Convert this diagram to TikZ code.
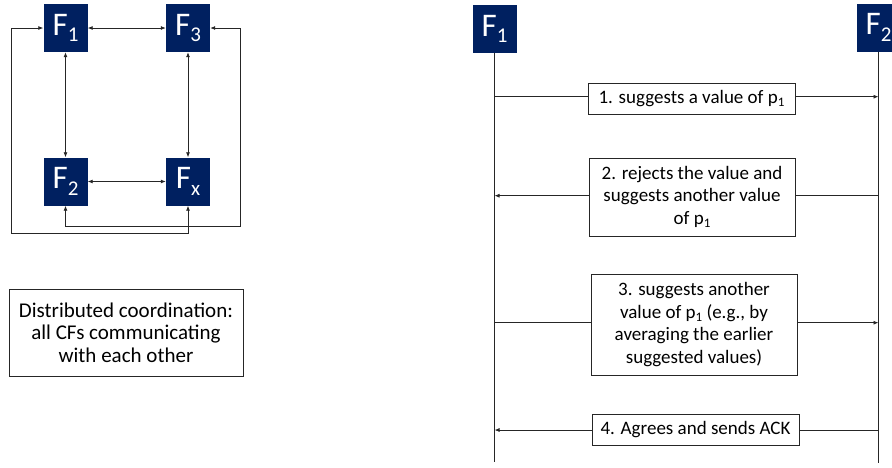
\documentclass[tikz,border=0pt]{standalone}
\usepackage{fontspec}
\setmainfont{Carlito}
\usetikzlibrary{arrows.meta}
\definecolor{navy}{HTML}{002060}
\newcommand{\cfname}[2]{#1\raisebox{-6.5pt}{\fontsize{21}{21}\selectfont #2}}
\newcommand{\psub}{p\raisebox{-3.5pt}{\fontsize{13}{13}\selectfont 1}}
\begin{document}
\begin{tikzpicture}[x=1pt,y=1pt,
  cf/.style={draw=none,fill=navy,text=white,minimum width=44pt,minimum height=48pt,
    inner sep=0pt,font=\fontsize{33}{33}\selectfont},
  wire/.style={draw=black!85,line width=0.8pt},
  tip/.style={-{Latex[length=5pt,width=4pt]}},
  bitip/.style={{Latex[length=5pt,width=4pt]}-{Latex[length=5pt,width=4pt]}},
  msgbox/.style={draw=black!85,line width=0.8pt,fill=white,inner sep=0pt,align=center,
    font=\fontsize{19}{22.5}\selectfont},
  notebox/.style={draw=black!85,line width=0.8pt,fill=white,inner sep=0pt,align=center,
    font=\fontsize{21}{22.5}\selectfont}]
\useasboundingbox (0,0) rectangle (892,-467);

% ---- distributed coordination: four CFs, fully connected ----
\node[cf] (f1) at (65.5,-28) {\cfname{F}{1}};
\node[cf] (f3) at (188,-28) {\cfname{F}{3}};
\node[cf] (f2) at (65.5,-181.5) {\cfname{F}{2}};
\node[cf] (fx) at (188,-181.5) {\cfname{F}{x}};

\draw[wire,bitip] (f1) -- (f3);
\draw[wire,bitip] (f1) -- (f2);
\draw[wire,bitip] (f3) -- (fx);
\draw[wire,bitip] (f2) -- (fx);

\coordinate (lo) at (11.7,-233);
\coordinate (ro) at (240.7,-226);
\draw[wire,bitip] (f1.west) -| (lo) -| (fx.south);
\draw[wire,bitip] (f3.east) -| (ro) -| (f2.south);

\node[notebox,minimum width=234pt,minimum height=87pt] (note) at (126,-332.5)
  {Distributed coordination:\\all CFs communicating\\with each other};

% ---- negotiation sequence between two CFs ----
\node[cf] (s1) at (494.5,-29) {\cfname{F}{1}};
\node[cf] (s2) at (878.5,-27.5) {\cfname{F}{2}\hspace{19pt}};
\coordinate (s1end) at (494.5,-462);
\coordinate (s2end) at (878.5,-463);
\draw[wire] (s1.south) -- (s1end);
\draw[wire] (s2.south) -- (s2end);

\coordinate (a1) at (494.5,-96.7);  \coordinate (b1) at (878.5,-96.7);
\coordinate (a2) at (494.5,-195.7); \coordinate (b2) at (878.5,-195.7);
\coordinate (a3) at (494.5,-322.7); \coordinate (b3) at (878.5,-322.7);
\coordinate (a4) at (494.5,-430);   \coordinate (b4) at (878.5,-430);

\draw[wire,tip] (a1) -- (b1);
\draw[wire,tip] (b2) -- (a2);
\draw[wire,tip] (a3) -- (b3);
\draw[wire,tip] (b4) -- (a4);

\node[msgbox,minimum width=207pt,minimum height=31pt] (m1) at (691.5,-98.5)
  {1. suggests a value of \psub};
\node[msgbox,minimum width=206pt,minimum height=78pt] (m2) at (692,-197)
  {2. rejects the value and\\suggests another value\\of \psub};
\node[msgbox,minimum width=206pt,minimum height=101pt] (m3) at (694,-324.5)
  {3. suggests another\\value of \psub\ (e.g., by\\averaging the earlier\\suggested values)};
\node[msgbox,minimum width=207pt,minimum height=31pt] (m4) at (695.5,-429.5)
  {4. Agrees and sends ACK};
\end{tikzpicture}
\end{document}
